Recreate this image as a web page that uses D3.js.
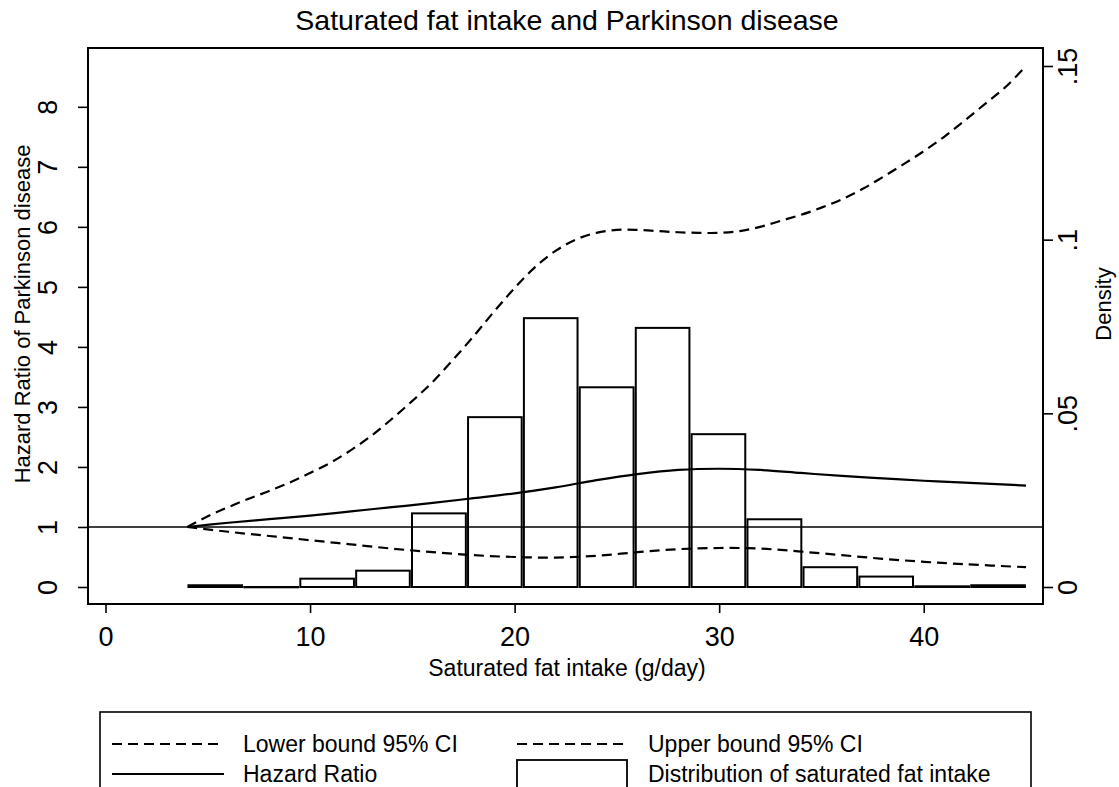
<!DOCTYPE html>
<html><head><meta charset="utf-8">
<script src="https://cdn.jsdelivr.net/npm/d3@7"></script>
<style>
html,body{margin:0;padding:0;background:#fff;}
svg text{font-family:"Liberation Sans",Arial,Helvetica,sans-serif;fill:#000;}
</style></head>
<body>
<svg id="c" width="1119" height="787"></svg>
<script>
// ---- data ----
const titleText = "Saturated fat intake and Parkinson disease";
const xTitle = "Saturated fat intake (g/day)";
const yTitle = "Hazard Ratio of Parkinson disease";
const y2Title = "Density";

const xTicks = [0, 10, 20, 30, 40];
const yTicks = [0, 1, 2, 3, 4, 5, 6, 7, 8];
const y2Ticks = [0, 0.05, 0.1, 0.15];
const y2TickLabels = ["0", ".05", ".1", ".15"];

// histogram bins (saturated fat intake, g/day) and densities
const binStart = [4.0, 6.73, 9.47, 12.2, 14.93, 17.67, 20.4, 23.13, 25.87, 28.6, 31.33, 34.07, 36.8, 39.53, 42.27];
const binEnd   = [6.73, 9.47, 12.2, 14.93, 17.67, 20.4, 23.13, 25.87, 28.6, 31.33, 34.07, 36.8, 39.53, 42.27, 45.0];
const density  = [0.0005, 0.0000, 0.0024, 0.0047, 0.0212, 0.0489, 0.0774, 0.0575, 0.0746, 0.0440, 0.0195, 0.0057, 0.0030, 0.0002, 0.0005];

// spline curves
const hrX = [4, 6, 8, 10, 12, 14, 16, 18, 20, 22, 24, 26, 28, 30, 32, 34, 36, 38, 40, 42, 45];
const hr  = [1.00, 1.07, 1.13, 1.19, 1.26, 1.33, 1.40, 1.48, 1.56, 1.66, 1.78, 1.88, 1.95, 1.97, 1.95, 1.90, 1.85, 1.81, 1.77, 1.74, 1.69];
const lower = [1.00, 0.92, 0.85, 0.78, 0.71, 0.64, 0.58, 0.53, 0.50, 0.49, 0.52, 0.58, 0.63, 0.65, 0.64, 0.59, 0.53, 0.47, 0.42, 0.38, 0.33];
const upX = [4, 5, 6, 7, 8, 9, 10, 11, 12, 13, 14, 15, 16, 17, 18, 19, 20, 21, 22, 23, 24, 25, 26, 27, 28, 29, 30, 31, 32, 33, 34, 35, 36, 37, 38, 39, 40, 41, 42, 43, 44, 45];
const upper = [1.00, 1.18, 1.33, 1.47, 1.60, 1.74, 1.90, 2.07, 2.28, 2.52, 2.80, 3.10, 3.42, 3.79, 4.18, 4.59, 4.98, 5.33, 5.60, 5.79, 5.90, 5.95, 5.95, 5.93, 5.91, 5.90, 5.90, 5.93, 6.00, 6.10, 6.20, 6.32, 6.46, 6.63, 6.83, 7.04, 7.26, 7.50, 7.77, 8.05, 8.33, 8.68];

const legendItems = [
  {label: "Lower bound 95% CI", type: "dash"},
  {label: "Upper bound 95% CI", type: "dash"},
  {label: "Hazard Ratio", type: "solid"},
  {label: "Distribution of saturated fat intake", type: "box"}
];

// ---- layout ----
const frame = {l: 88, r: 1043, t: 48, b: 604};
const svg = d3.select("#c");

const x = d3.scaleLinear().domain([0, 45]).range([105.5, 1026]);
const yL = d3.scaleLinear().domain([0, d3.max(upper)]).range([587, 66]);
const yR = d3.scaleLinear().domain([0, 0.15]).range([587, 66]);

// title
svg.append("text").attr("x", 567).attr("y", 30).attr("text-anchor", "middle")
  .style("font-size", "28.5px").text(titleText);

// histogram
const bins = binStart.map((s, i) => ({s, e: binEnd[i], d: density[i]}));
svg.append("g").selectAll("rect").data(bins).join("rect")
  .attr("x", d => x(d.s) + 1.1)
  .attr("width", d => x(d.e) - x(d.s) - 2.2)
  .attr("y", d => yR(d.d))
  .attr("height", d => Math.max(0.3, yR(0) - yR(d.d)))
  .attr("fill", "#fff").attr("stroke", "#000").attr("stroke-width", 2);

// reference line at HR=1
svg.append("line").attr("x1", frame.l).attr("x2", frame.r)
  .attr("y1", yL(1)).attr("y2", yL(1)).attr("stroke", "#000").attr("stroke-width", 1.5);

const lineGen = (xs, ys) => d3.line().x((d, i) => x(xs[i])).y(d => yL(d)).curve(d3.curveCatmullRom)(ys);

svg.append("path").attr("d", lineGen(upX, upper)).attr("fill", "none")
  .attr("stroke", "#000").attr("stroke-width", 2.2).attr("stroke-dasharray", "10,6");
svg.append("path").attr("d", lineGen(hrX, lower)).attr("fill", "none")
  .attr("stroke", "#000").attr("stroke-width", 2.2).attr("stroke-dasharray", "10,6");
svg.append("path").attr("d", lineGen(hrX, hr)).attr("fill", "none")
  .attr("stroke", "#000").attr("stroke-width", 2.2);

// frame
svg.append("rect").attr("x", frame.l).attr("y", frame.t)
  .attr("width", frame.r - frame.l).attr("height", frame.b - frame.t)
  .attr("fill", "none").attr("stroke", "#000").attr("stroke-width", 2);

// x axis
const gx = svg.append("g").attr("transform", `translate(0,${frame.b})`)
  .call(d3.axisBottom(x).tickValues(xTicks).tickSize(9).tickFormat(d3.format("d")));
gx.select(".domain").remove();
gx.selectAll("line").attr("stroke-width", 1.6);
gx.selectAll("text").attr("y", 32).attr("dy", "0.36em").style("font-size", "27px")
  .attr("font-family", null);

// left axis
const gy = svg.append("g").attr("transform", `translate(${frame.l},0)`)
  .call(d3.axisLeft(yL).tickValues(yTicks).tickSize(10).tickFormat(d3.format("d")));
gy.select(".domain").remove();
gy.selectAll("line").attr("stroke-width", 1.6);
gy.selectAll("text").attr("x", 0)
  .attr("transform", "translate(-41,0) rotate(-90)")
  .attr("text-anchor", "middle").attr("dy", "0.36em").style("font-size", "27px")
  .attr("font-family", null);

// right axis
const gy2 = svg.append("g").attr("transform", `translate(${frame.r},0)`)
  .call(d3.axisRight(yR).tickValues(y2Ticks).tickSize(10).tickFormat((d, i) => y2TickLabels[i]));
gy2.select(".domain").remove();
gy2.selectAll("line").attr("stroke-width", 1.6);
gy2.selectAll("text").attr("x", 0)
  .attr("transform", "translate(24,0) rotate(-90)")
  .attr("text-anchor", "middle").attr("dy", "0.36em").style("font-size", "27px")
  .attr("font-family", null);

// axis titles
svg.append("text").attr("x", 567).attr("y", 676).attr("text-anchor", "middle")
  .style("font-size", "23px").text(xTitle);
svg.append("text").attr("transform", "translate(30,314) rotate(-90)").attr("text-anchor", "middle")
  .style("font-size", "22px").text(yTitle);
svg.append("text").attr("transform", "translate(1111,304) rotate(-90)").attr("text-anchor", "middle")
  .style("font-size", "22px").text(y2Title);

// legend
svg.append("rect").attr("x", 100).attr("y", 712).attr("width", 931).attr("height", 100)
  .attr("fill", "none").attr("stroke", "#000").attr("stroke-width", 1.6);
const cols = [112, 517], rows = [744, 774];
legendItems.forEach((it, i) => {
  const cx = cols[i % 2], cy = rows[Math.floor(i / 2)];
  if (it.type === "box") {
    svg.append("rect").attr("x", cx).attr("y", cy - 14).attr("width", 110).attr("height", 28)
      .attr("fill", "#fff").attr("stroke", "#000").attr("stroke-width", 1.8);
  } else {
    svg.append("line").attr("x1", cx).attr("x2", cx + 112).attr("y1", cy).attr("y2", cy)
      .attr("stroke", "#000").attr("stroke-width", 2.2)
      .attr("stroke-dasharray", it.type === "dash" ? "10,6" : null);
  }
  svg.append("text").attr("x", cx + 131).attr("y", cy).attr("dy", "0.34em")
    .style("font-size", "23px").text(it.label);
});
</script>
</body></html>
